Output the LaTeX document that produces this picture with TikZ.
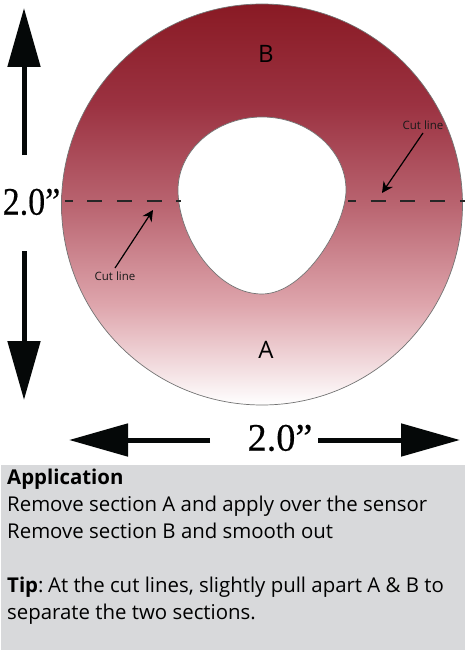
\documentclass[tikz,border=0pt]{standalone}
\usepackage{fontspec}
\setmainfont{Open Sans}
\newfontfamily\dimfont[FakeStretch=0.87,FakeBold=0.4]{Liberation Serif}
\newfontfamily\dimwide[FakeStretch=0.98,FakeBold=0.4]{Liberation Serif}
\usetikzlibrary{arrows.meta, positioning}
\definecolor{panelgray}{HTML}{D8D9DB}
\definecolor{tipblack}{HTML}{050808}
\definecolor{diska}{RGB}{137,26,36}
\definecolor{diskb}{RGB}{155,50,65}
\definecolor{diskc}{RGB}{185,100,112}
\definecolor{diskd}{RGB}{222,165,172}
\pgfdeclareverticalshading{diskfade}{100bp}{
	color(0bp)=(white);
	color(25bp)=(white);
	color(37.5bp)=(diskd);
	color(50bp)=(diskc);
	color(62.5bp)=(diskb);
	color(75bp)=(diska);
	color(100bp)=(diska)}
\tikzset{
	bigarrow/.style={line width=5pt,draw=tipblack,-{Triangle[length=59pt,width=32pt]}},
	cutarrow/.style={line width=1.2pt,black,-{Stealth[length=11pt,width=11pt]}},
	cutdash/.style={line width=1.3pt,black!85,dash pattern=on 15pt off 14.7pt},
	ringline/.style={draw=black!55,line width=0.7pt},
	cutlabel/.style={font=\fontsize{11.5}{13}\selectfont,text=black!90},
	seclabel/.style={font=\fontsize{24}{28}\selectfont,text=black},
	dimlabel/.style={font=\fontsize{39}{42}\selectfont,inner sep=0pt}
}
\begin{document}
\begin{tikzpicture}[x=1pt,y=-1pt]
	\useasboundingbox (0,0) rectangle (465,650);
	\fill[panelgray] (1,465) rectangle (465,650);
	\shade[shading=diskfade,ringline] (262,204.5) circle (200.5);
	\filldraw[fill=white,ringline] (262,117) .. controls (308,117) and (346,150) .. (346,190)
		.. controls (346,225) and (305,294) .. (262,294)
		.. controls (215,294) and (178,235) .. (178,190)
		.. controls (178,150) and (216,117) .. (262,117) -- cycle;
	\node[seclabel] (secb) at (266,54) {B};
	\node[seclabel] (seca) at (266,350) {A};
	\draw[cutdash,dash phase=7.5pt] (65,201) -- (181,201);
	\draw[cutdash,dash phase=7pt] (348,201) -- (465,201);
	\node[cutlabel] (cutr) at (423,125) {Cut line};
	\node[cutlabel] (cutl) at (115,276) {Cut line};
	\coordinate (tipr) at (382,193);
	\coordinate (tipl) at (153,210);
	\draw[cutarrow] (cutr.south) -- (tipr);
	\draw[cutarrow] (cutl.north) -- (tipl);
	\node[dimlabel] (dimv) at (31.5,202) {\dimfont 2.0”};
	\node[dimlabel] (dimh) at (280,438) {\dimwide 2.0”};
	\coordinate (vupa) at (24,155);
	\coordinate (vupb) at (24,8);
	\coordinate (vdna) at (24,251);
	\coordinate (vdnb) at (24,400);
	\coordinate (hlfa) at (210,440);
	\coordinate (hlfb) at (69,440);
	\coordinate (hrta) at (318,440);
	\coordinate (hrtb) at (460,440);
	\foreach \a/\b in {vupa/vupb,vdna/vdnb,hlfa/hlfb,hrta/hrtb}{\draw[bigarrow] (\a) -- (\b);}
	\node[anchor=north west,inner sep=0pt,align=left,font=\fontsize{20.4}{27}\selectfont] (apptext) at (7,468.5) {\textbf{Application}\\Remove section A and apply over the sensor\\Remove section B and smooth out\\[27pt]\textbf{Tip}:\kern-2.5pt{} At the cut lines, slightly pull apart A \& B to\\separate the two sections.};
\end{tikzpicture}
\end{document}
